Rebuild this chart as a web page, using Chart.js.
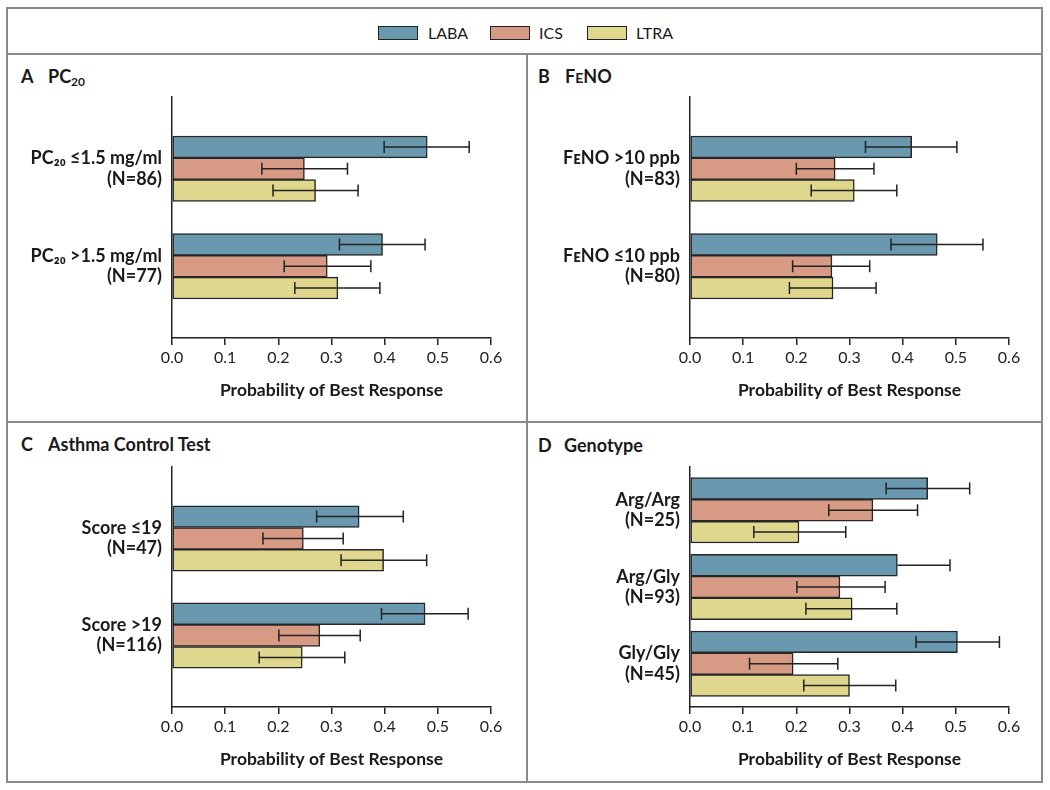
<!DOCTYPE html>
<html>
<head>
<meta charset="utf-8">
<script src="https://cdn.jsdelivr.net/npm/chart.js@4.4.1/dist/chart.umd.min.js"></script>
<style>
  body { margin: 0; background: #fff; font-family: Lato, sans-serif; color: #1a1a1a; }
  .line { position: absolute; background: #8a8a8a; }
  .ptitle { position: absolute; font-size: 18px; font-weight: bold; line-height: 20px; white-space: nowrap; }
  .ptitle span { position: absolute; top: 0; }
  .ptitle sub { font-size: 12px; vertical-align: -3px; line-height: 0; }
  .sc { font-size: 14px; }
  .leg { position: absolute; font-size: 16px; line-height: 20px; top: 23px; }
  .box { position: absolute; width: 38px; height: 12px; border: 1.5px solid #222; top: 26px; }
  canvas { position: absolute; }
</style>
</head>
<body>
<!-- outer frame and dividers -->
<div class="line" style="left:6px;top:7px;width:1037px;height:2px"></div>
<div class="line" style="left:6px;top:781px;width:1037px;height:2px"></div>
<div class="line" style="left:6px;top:7px;width:2px;height:776px"></div>
<div class="line" style="left:1041px;top:7px;width:2px;height:776px"></div>
<div class="line" style="left:6px;top:53px;width:1037px;height:2px"></div>
<div class="line" style="left:526px;top:53px;width:2px;height:730px"></div>
<div class="line" style="left:6px;top:421px;width:1037px;height:2px"></div>

<!-- legend -->
<div class="box" style="left:378px;background:#6a98ae"></div>
<div class="leg" style="left:428px">LABA</div>
<div class="box" style="left:490px;background:#d69a85"></div>
<div class="leg" style="left:539px">ICS</div>
<div class="box" style="left:587px;background:#e0d78e"></div>
<div class="leg" style="left:636px">LTRA</div>

<!-- panel titles -->
<div class="ptitle" style="left:21px;top:66px">A<span style="left:27px">PC<sub>20</sub></span></div>
<div class="ptitle" style="left:538px;top:66px">B<span style="left:27px">F<span class="sc" style="position:static">E</span>NO</span></div>
<div class="ptitle" style="left:21px;top:434px">C<span style="left:27px">Asthma Control Test</span></div>
<div class="ptitle" style="left:538px;top:435px">D<span style="left:26px">Genotype</span></div>

<canvas id="chartA" width="518" height="366" style="left:8px;top:55px"></canvas>
<canvas id="chartB" width="513" height="366" style="left:528px;top:55px"></canvas>
<canvas id="chartC" width="518" height="358" style="left:8px;top:423px"></canvas>
<canvas id="chartD" width="513" height="358" style="left:528px;top:423px"></canvas>

<script>
//Series names and colours
const seriesNames = ['LABA', 'ICS', 'LTRA'];
const seriesColors = ['#6a98ae', '#d69a85', '#e0d78e'];

//X axis ticks
const xTicks = [0.0, 0.1, 0.2, 0.3, 0.4, 0.5, 0.6];
const xTitle = 'Probability of Best Response';

//Panel A: PC20 (rows are LABA, ICS, LTRA)
const aLabels = [['PC₂₀ ≤1.5 mg/ml', '(N=86)'], ['PC₂₀ >1.5 mg/ml', '(N=77)']];
const aMean = [[0.480, 0.396], [0.249, 0.292], [0.270, 0.312]];
const aLow  = [[0.399, 0.315], [0.169, 0.211], [0.190, 0.231]];
const aHigh = [[0.559, 0.476], [0.330, 0.374], [0.350, 0.391]];

//Panel B: FeNO
const bLabels = [['FᴇNO >10 ppb', '(N=83)'], ['FᴇNO ≤10 ppb', '(N=80)']];
const bMean = [[0.417, 0.465], [0.273, 0.267], [0.309, 0.269]];
const bLow  = [[0.330, 0.378], [0.200, 0.193], [0.228, 0.187]];
const bHigh = [[0.502, 0.551], [0.346, 0.338], [0.389, 0.350]];

//Panel C: Asthma Control Test
const cLabels = [['Score ≤19', '(N=47)'], ['Score >19', '(N=116)']];
const cMean = [[0.352, 0.476], [0.247, 0.278], [0.398, 0.245]];
const cLow  = [[0.272, 0.394], [0.171, 0.201], [0.318, 0.164]];
const cHigh = [[0.435, 0.557], [0.322, 0.354], [0.479, 0.325]];

//Panel D: Genotype (lower whisker of LABA Arg/Gly is hidden in the original)
const dLabels = [['Arg/Arg', '(N=25)'], ['Arg/Gly', '(N=93)'], ['Gly/Gly', '(N=45)']];
const dMean = [[0.447, 0.390, 0.503], [0.344, 0.282, 0.194], [0.205, 0.305, 0.300]];
const dLow  = [[0.369, null, 0.425], [0.261, 0.201, 0.112], [0.120, 0.218, 0.214]];
const dHigh = [[0.526, 0.489, 0.582], [0.428, 0.367, 0.278], [0.293, 0.389, 0.387]];

Chart.defaults.font.family = "Lato, sans-serif";
Chart.defaults.color = '#1a1a1a';

//Draws the confidence interval whiskers on top of the bars
const errorBars = {
    id: 'errorBars',
    afterDatasetsDraw(chart) {
        const ctx = chart.ctx;
        const xs = chart.scales.x;
        ctx.save();
        ctx.strokeStyle = '#222';
        ctx.lineWidth = 1.5;
        chart.data.datasets.forEach((ds, i) => {
            chart.getDatasetMeta(i).data.forEach((bar, j) => {
                const hi = ds.errHigh[j];
                const lo = ds.errLow[j];
                const y = bar.y;
                const xHi = xs.getPixelForValue(hi);
                const xLo = xs.getPixelForValue(lo === null ? ds.data[j].x : lo);
                ctx.beginPath();
                ctx.moveTo(xLo, y);
                ctx.lineTo(xHi, y);
                ctx.moveTo(xHi, y - 6);
                ctx.lineTo(xHi, y + 6);
                if (lo !== null) {
                    ctx.moveTo(xLo, y - 6);
                    ctx.lineTo(xLo, y + 6);
                }
                ctx.stroke();
            });
        });
        ctx.restore();
    }
};

//box = canvas position on the page, area = wanted plot area on the page
function makePanel(id, box, area, labels, mean, low, high, yMin, yMax)
{
    const ctx = document.getElementById(id).getContext('2d');

    const datasets = seriesNames.map((name, s) => ({
        label: name,
        data: mean[s].map((v, j) => ({x: v, y: j + 1})),
        errLow: low[s],
        errHigh: high[s],
        backgroundColor: seriesColors[s],
        borderColor: '#262626',
        borderWidth: 1.5,
        borderSkipped: false,
        barThickness: 21.8
    }));

    new Chart(ctx, {
        type: 'bar',
        data: { datasets: datasets },
        plugins: [errorBars],
        options: {
            indexAxis: 'y',
            responsive: false,
            animation: false,
            devicePixelRatio: 1,
            layout: {
                padding: {
                    left: 0,
                    top: area.t - box.y,
                    right: box.x + box.w - area.r,
                    bottom: 0
                }
            },
            plugins: {
                legend: { display: false },
                tooltip: { enabled: false }
            },
            scales: {
                x: {
                    type: 'linear',
                    min: 0,
                    max: 0.6,
                    afterBuildTicks: s => { s.ticks = xTicks.map(v => ({value: v})); },
                    afterFit: s => { s.height = box.y + box.h - area.b; },
                    grid: {
                        display: true,
                        drawOnChartArea: false,
                        drawTicks: true,
                        tickLength: 7,
                        color: '#222',
                        lineWidth: 1.5
                    },
                    border: { display: true, color: '#222', width: 1.5 },
                    ticks: {
                        padding: 3,
                        font: { size: 16 },
                        color: '#222',
                        callback: v => v.toFixed(1)
                    },
                    title: {
                        display: true,
                        text: xTitle,
                        font: { size: 17.5, weight: 'bold' },
                        color: '#1a1a1a',
                        padding: { top: 0, bottom: box.y + box.h - area.b - 52 - 10.5 }
                    }
                },
                y: {
                    type: 'linear',
                    reverse: true,
                    offset: false,
                    min: yMin,
                    max: yMax,
                    afterBuildTicks: s => { s.ticks = labels.map((l, i) => ({value: i + 1})); },
                    afterFit: s => { s.width = area.l - box.x; },
                    grid: { display: false, drawTicks: false, offset: false },
                    border: { display: true, color: '#222', width: 1.5 },
                    ticks: {
                        padding: 10,
                        font: { size: 18, weight: 'bold', lineHeight: 1.12 },
                        color: '#1a1a1a',
                        callback: v => labels[Math.round(v) - 1]
                    }
                }
            }
        }
    });
}

makePanel('chartA', {x: 8, y: 55, w: 518, h: 366}, {l: 172, t: 97, r: 491, b: 338},
          aLabels, aMean, aLow, aHigh, 0.265, 2.735);
makePanel('chartB', {x: 528, y: 55, w: 513, h: 366}, {l: 690, t: 97, r: 1009, b: 338},
          bLabels, bMean, bLow, bHigh, 0.265, 2.735);
makePanel('chartC', {x: 8, y: 423, w: 518, h: 358}, {l: 172, t: 467, r: 491, b: 707},
          cLabels, cMean, cLow, cHigh, 0.265, 2.735);
makePanel('chartD', {x: 528, y: 423, w: 513, h: 358}, {l: 690, t: 467, r: 1009, b: 707},
          dLabels, dMean, dLow, dHigh, 0.435, 3.565);
</script>
</body>
</html>
